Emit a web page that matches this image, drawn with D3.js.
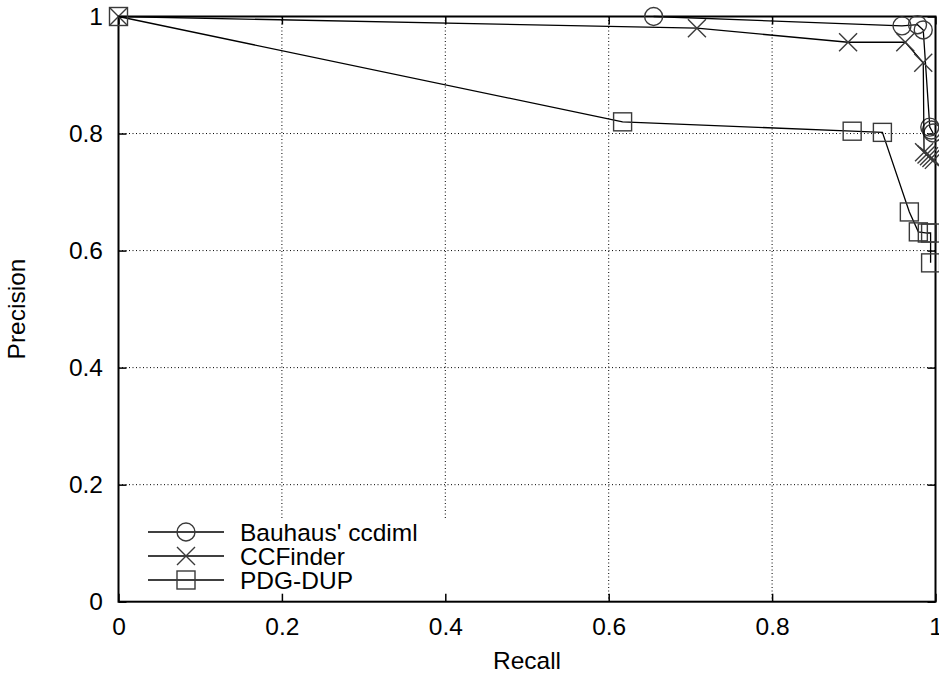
<!DOCTYPE html>
<html>
<head>
<meta charset="utf-8">
<script src="https://cdn.jsdelivr.net/npm/d3@7"></script>
<style>
  body { margin: 0; background: #fff; }
  text { font-family: "Liberation Sans", Arial, Helvetica, sans-serif; fill: #000; }
</style>
</head>
<body>
<div id="chart"></div>
<script>
// Precision / recall points
const bauhausRecall    = [0.655, 0.959, 0.978, 0.985, 0.993, 0.995, 0.997];
const bauhausPrecision = [1.0,   0.984, 0.986, 0.977, 0.811, 0.806, 0.801];

const ccfinderRecall    = [0, 0.708, 0.893, 0.963, 0.985, 0.986, 0.989, 0.992, 0.995, 0.998];
const ccfinderPrecision = [1, 0.980, 0.956, 0.956, 0.921, 0.768, 0.764, 0.761, 0.758, 0.755];

const pdgRecall    = [0, 0.617, 0.898, 0.935, 0.968, 0.979, 0.990, 0.994, 0.994];
const pdgPrecision = [1, 0.820, 0.804, 0.802, 0.666, 0.632, 0.630, 0.630, 0.579];

const seriesNames = ["Bauhaus' ccdiml", "CCFinder", "PDG-DUP"];
const tickValues = [0, 0.2, 0.4, 0.6, 0.8, 1];

const series = [
    { name: seriesNames[0], marker: "circle", pts: bauhausRecall.map((r, i) => [r, bauhausPrecision[i]]) },
    { name: seriesNames[1], marker: "cross",  pts: ccfinderRecall.map((r, i) => [r, ccfinderPrecision[i]]) },
    { name: seriesNames[2], marker: "square", pts: pdgRecall.map((r, i) => [r, pdgPrecision[i]]) }
];

const W = 939, H = 674;
const margin = { top: 16.5, right: 3.5, bottom: 72.3, left: 118.5 },
    width = W - margin.left - margin.right,
    height = H - margin.top - margin.bottom;

const svg = d3.select("#chart").append("svg")
    .attr("width", W)
    .attr("height", H);

const g = svg.append("g")
    .attr("transform", `translate(${margin.left},${margin.top})`);

const x = d3.scaleLinear().domain([0, 1]).range([0, width]);
const y = d3.scaleLinear().domain([0, 1]).range([height, 0]);

const fmt = d => d === 0 || d === 1 ? String(d) : d.toFixed(1);
const FS = "24.5px";

// grid
const grid = g.append("g").attr("class", "grid")
    .attr("stroke", "#000").attr("stroke-width", 1).attr("stroke-dasharray", "1,2.5");
grid.selectAll("line.v").data(tickValues.slice(1, -1)).enter().append("line")
    .attr("x1", d => x(d)).attr("x2", d => x(d)).attr("y1", 0).attr("y2", height);
grid.selectAll("line.h").data(tickValues.slice(1, -1)).enter().append("line")
    .attr("y1", d => y(d)).attr("y2", d => y(d)).attr("x1", 0).attr("x2", width);

// key area hides the grid
g.append("rect")
    .attr("x", 1).attr("y", 501.5).attr("width", 333).attr("height", height - 502.5)
    .attr("fill", "#fff");

// axes with inward ticks
const axB = g.append("g").attr("transform", `translate(0,${height})`)
    .call(d3.axisBottom(x).tickValues(tickValues).tickFormat(fmt).tickSizeInner(-8).tickSizeOuter(0).tickPadding(15.5));
const axL = g.append("g")
    .call(d3.axisLeft(y).tickValues(tickValues).tickFormat(fmt).tickSizeInner(-8).tickSizeOuter(0).tickPadding(15.5));
const axT = g.append("g")
    .call(d3.axisTop(x).tickValues(tickValues).tickFormat("").tickSizeInner(-8).tickSizeOuter(0));
const axR = g.append("g").attr("transform", `translate(${width},0)`)
    .call(d3.axisRight(y).tickValues(tickValues).tickFormat("").tickSizeInner(-8).tickSizeOuter(0));

[axB, axL, axT, axR].forEach(a => {
    a.select(".domain").remove();
    a.selectAll(".tick line").attr("stroke", "#000").attr("stroke-width", 1.5);
    a.selectAll("text").style("font-size", FS).attr("fill", "#000");
});

// frame
g.append("rect")
    .attr("width", width).attr("height", height)
    .attr("fill", "none").attr("stroke", "#000").attr("stroke-width", 2);

// marker drawing
const R = 9;
function drawMarker(sel, type) {
    if (type === "circle") {
        sel.append("circle").attr("r", R);
    } else if (type === "square") {
        sel.append("rect").attr("x", -R).attr("y", -R).attr("width", 2 * R).attr("height", 2 * R);
    } else {
        sel.append("path").attr("d", `M${-R},${-R}L${R},${R}M${-R},${R}L${R},${-R}`);
    }
}

const line = d3.line().x(d => x(d[0])).y(d => y(d[1]));

series.forEach(s => {
    g.append("path")
        .datum(s.pts)
        .attr("d", line)
        .attr("fill", "none")
        .attr("stroke", "#000")
        .attr("stroke-width", 1.3);

    const m = g.append("g")
        .attr("fill", "none")
        .attr("stroke", "#3a3a3a")
        .attr("stroke-width", 1.4);
    s.pts.forEach(p => {
        const mk = m.append("g").attr("transform", `translate(${x(p[0])},${y(p[1])})`);
        drawMarker(mk, s.marker);
    });
});

// legend
const legend = svg.append("g");
series.forEach((s, i) => {
    const ly = 532 + i * 24;
    legend.append("line")
        .attr("x1", 148).attr("x2", 224).attr("y1", ly).attr("y2", ly)
        .attr("stroke", "#000").attr("stroke-width", 1.3);
    const mk = legend.append("g")
        .attr("transform", `translate(186,${ly})`)
        .attr("fill", "none").attr("stroke", "#3a3a3a").attr("stroke-width", 1.4);
    drawMarker(mk, s.marker);
    legend.append("text")
        .attr("x", 240).attr("y", ly).attr("dy", "0.35em")
        .style("font-size", FS)
        .text(s.name);
});

// axis titles
svg.append("text")
    .attr("x", 527).attr("y", 669)
    .attr("text-anchor", "middle")
    .style("font-size", FS)
    .text("Recall");

svg.append("text")
    .attr("transform", "translate(25,309) rotate(-90)")
    .attr("text-anchor", "middle")
    .style("font-size", FS)
    .text("Precision");
</script>
</body>
</html>
